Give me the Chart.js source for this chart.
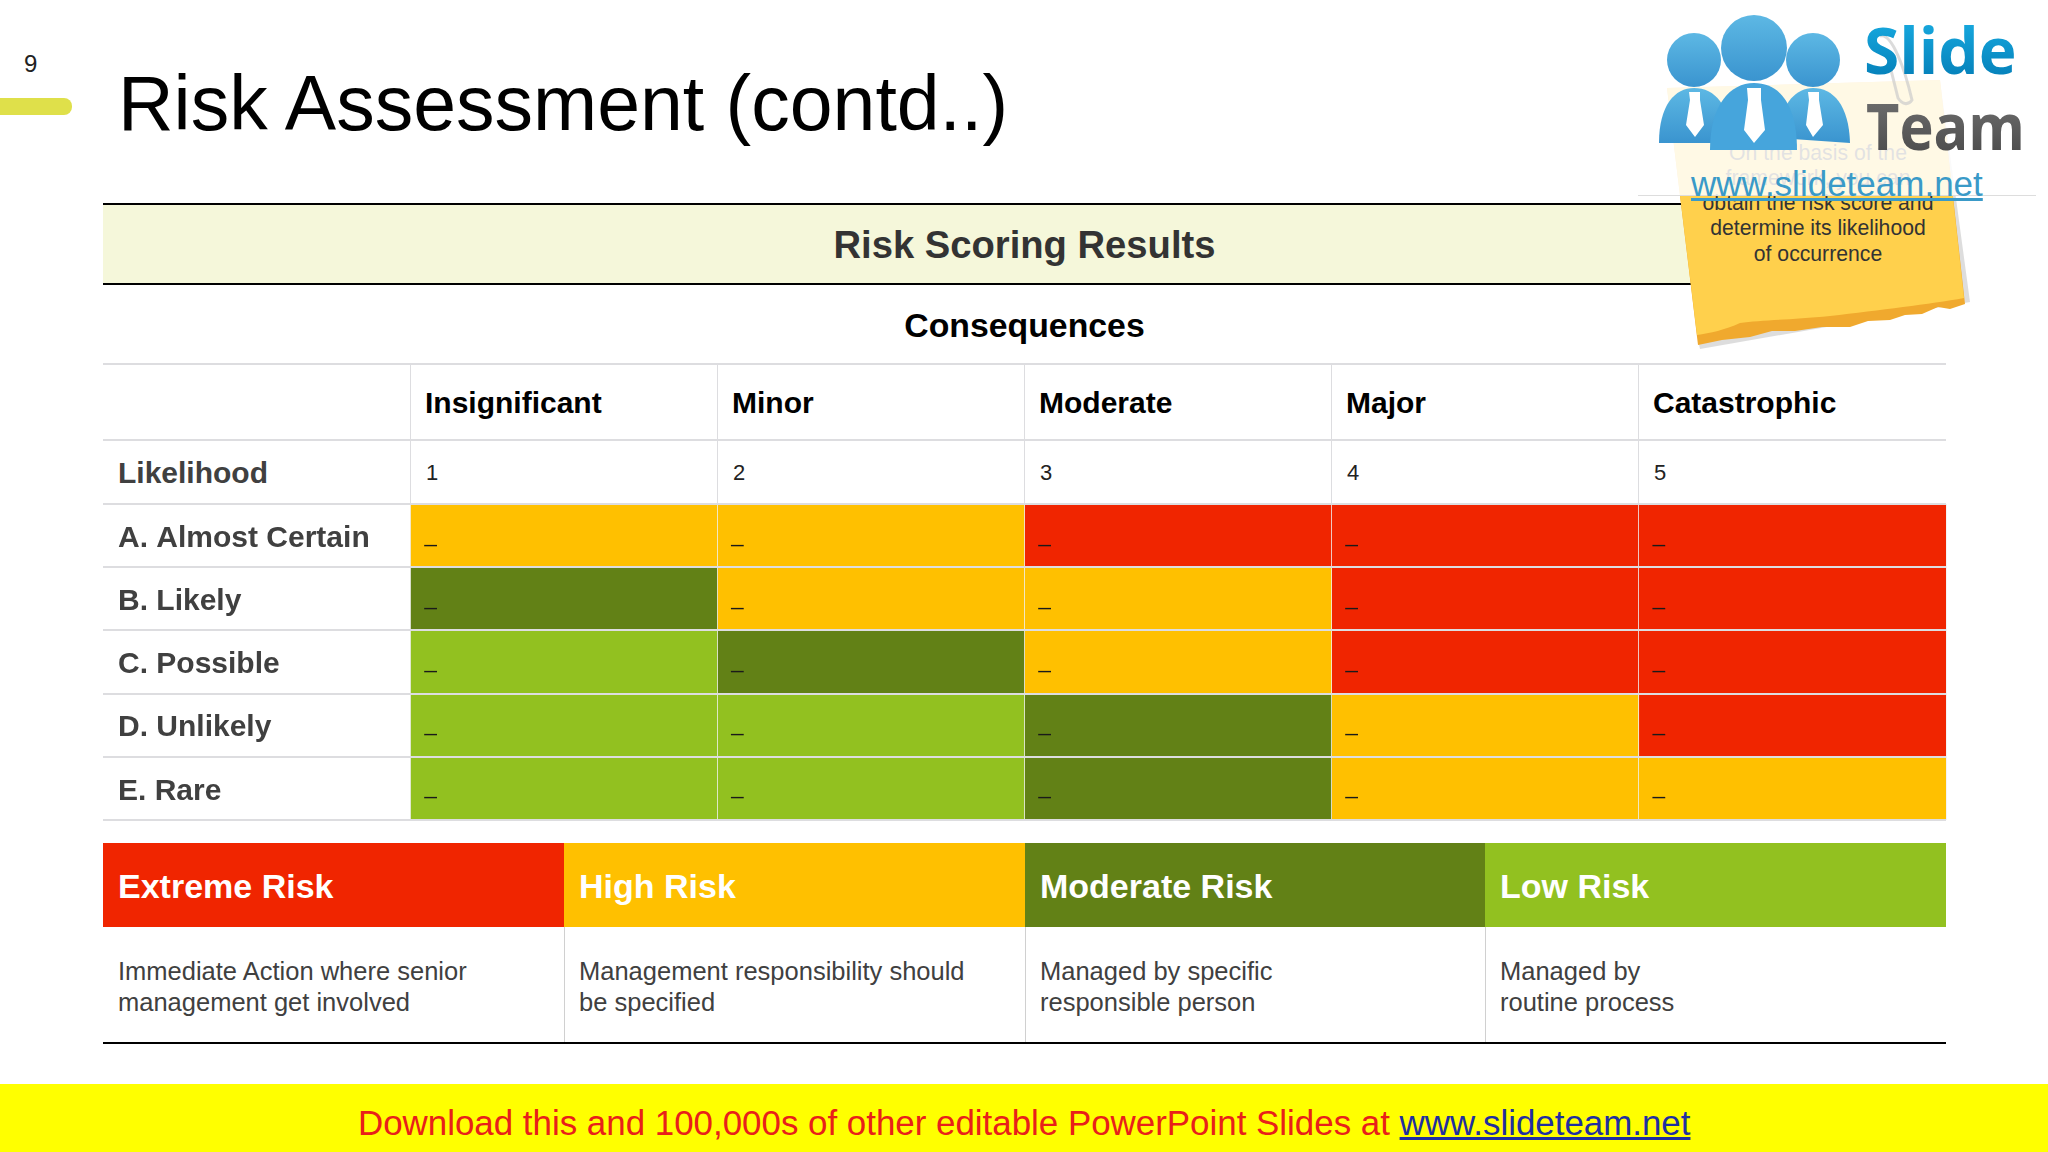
<!DOCTYPE html>
<html>
<head>
<meta charset="utf-8">
<title>Risk Assessment</title>
<script src="https://cdn.jsdelivr.net/npm/chart.js@4/dist/chart.umd.min.js"></script>
<style>
    html, body { margin: 0; padding: 0; background: #fff; }
    #slide { position: relative; width: 2048px; height: 1152px; overflow: hidden; background: #fff; font-family: 'Liberation Sans', Arial, sans-serif; }
    #slide div, #slide svg, #slide canvas { position: absolute; }
    .txt { white-space: nowrap; line-height: 1; }
    .b { font-weight: 700; }
</style>
</head>
<body>
<div id="slide">
    <div class="txt" style="left:24px;top:52px;font-size:24px;color:#222">9</div>
    <div style="left:0;top:98px;width:72px;height:17px;background:#dfe04a;border-radius:0 8px 8px 0"></div>
    <div class="txt" style="left:118px;top:65px;font-size:77px;color:#000">Risk Assessment (contd..)</div>

    <div style="left:103px;top:203px;width:1843px;height:81px;background:#f5f7da"></div>
    <div style="left:103px;top:203px;width:1843px;height:2px;background:#000"></div>
    <div style="left:103px;top:283px;width:1843px;height:2px;background:#000"></div>
    <div class="txt b" style="left:103px;width:1843px;text-align:center;top:226px;font-size:38.2px;color:#333">Risk Scoring Results</div>
    <div class="txt b" style="left:103px;width:1843px;text-align:center;top:309px;font-size:33.8px;color:#000">Consequences</div>

    <div id="head"></div>
    <canvas id="riskChart" width="1853" height="336" style="left:103px;top:494px"></canvas>
    <div id="key"></div>

    <!-- sticky note, washed out by the logo box on top of it -->
    <svg width="400" height="300" style="left:1640px;top:60px" viewBox="1640 60 400 300">
        <path d="M1940 80 L1970 302 L1700 349 L1698 340 L1960 296 Z" fill="#cfcfcf" opacity="0.7"/>
        <path d="M1667 88 L1940 80 L1965 304 L1950 309 L1938 307 L1922 314 L1905 315 L1890 320 L1868 321 L1850 327 L1822 327 L1795 331 L1772 331 L1750 337 L1722 340 L1698 345 Z" fill="#f0a92e"/>
        <path d="M1667 88 L1940 80 L1964 298 C1930 304 1880 310 1830 316 C1790 320 1760 320 1740 323 C1725 330 1710 333 1697 335 Z" fill="#ffd04c"/>
    </svg>
    <div class="txt" style="left:1640px;width:356px;text-align:center;top:142px;font-size:21.2px;color:#333">On the basis of the</div>
    <div class="txt" style="left:1640px;width:356px;text-align:center;top:167px;font-size:21.2px;color:#333">framework, you can</div>
    <div class="txt" style="left:1640px;width:356px;text-align:center;top:192px;font-size:21.2px;color:#333">obtain the risk score and</div>
    <div class="txt" style="left:1640px;width:356px;text-align:center;top:217px;font-size:21.2px;color:#333">determine its likelihood</div>
    <div class="txt" style="left:1640px;width:356px;text-align:center;top:243px;font-size:21.2px;color:#333">of occurrence</div>

    <div style="left:1638px;top:0;width:398px;height:195px;background:rgba(255,255,255,0.86);border-bottom:1px solid #ddd"></div>

    <svg width="400" height="200" style="left:1640px;top:0" viewBox="1640 0 400 200">
        <defs>
            <linearGradient id="blue" x1="0" y1="0" x2="0" y2="1"><stop offset="0" stop-color="#5db8e4"/><stop offset="1" stop-color="#3a94cf"/></linearGradient>
            <linearGradient id="slideBlue" x1="0" y1="0" x2="0" y2="1"><stop offset="0" stop-color="#1cb3e8"/><stop offset="1" stop-color="#0076b0"/></linearGradient>
            <linearGradient id="teamGrey" x1="0" y1="0" x2="0" y2="1"><stop offset="0" stop-color="#777"/><stop offset="1" stop-color="#444"/></linearGradient>
        </defs>
        <path d="M1880 36 C1892 32 1905 70 1912 100 C1908 106 1902 104 1898 98 L1886 50" fill="none" stroke="#ccc" stroke-width="3" opacity="0.7"/>
        <circle cx="1694" cy="60" r="27" fill="url(#blue)"/>
        <circle cx="1813" cy="60" r="27" fill="url(#blue)"/>
        <path d="M1659 143 C1659 105 1675 88 1694 88 C1715 88 1730 105 1732 143 Z" fill="url(#blue)"/>
        <path d="M1777 138 C1780 105 1795 88 1813 88 C1833 88 1849 105 1850 143 Z" fill="url(#blue)"/>
        <circle cx="1754" cy="48" r="33" fill="url(#blue)"/>
        <path d="M1710 150 C1710 105 1730 83 1754 83 C1780 83 1797 105 1797 150 Z" fill="#46a5dc"/>
        <path d="M1689 92 H1700 V100 L1704 125 L1695 137 L1686 125 L1690 100 Z" fill="#fff"/>
        <path d="M1747 88 H1761 V100 L1765 130 L1754 143 L1744 130 L1748 100 Z" fill="#fff"/>
        <path d="M1808 92 H1819 V100 L1823 125 L1813 137 L1806 125 L1809 100 Z" fill="#fff"/>
        <text x="1864" y="74" font-family="Open Sans" font-weight="700" font-size="64" fill="url(#slideBlue)">Slide</text>
        <text x="1866" y="150" font-family="Open Sans" font-weight="700" font-size="64" textLength="159" lengthAdjust="spacingAndGlyphs" fill="url(#teamGrey)">Team</text>
    </svg>
    <div class="txt" style="left:1691px;top:166px;font-size:35px;color:#3a9ac8;text-decoration:underline">www.slideteam.net</div>

    <div style="left:0;top:1084px;width:2048px;height:68px;background:#ffff00"></div>
    <div class="txt" style="left:358px;top:1106px;font-size:34.9px;color:#e8201a">Download this and 100,000s of other editable PowerPoint Slides at <span style="color:#1f2fa0;text-decoration:underline">www.slideteam.net</span></div>
</div>

<script>
const consequences = ['Insignificant', 'Minor', 'Moderate', 'Major', 'Catastrophic'];
const impactScores = ['1', '2', '3', '4', '5'];
const likelihoods = ['A. Almost Certain', 'B. Likely', 'C. Possible', 'D. Unlikely', 'E. Rare'];

// risk level per cell, one list per likelihood row
const rowA = ['High', 'High', 'Extreme', 'Extreme', 'Extreme'];
const rowB = ['Moderate', 'High', 'High', 'Extreme', 'Extreme'];
const rowC = ['Low', 'Moderate', 'High', 'Extreme', 'Extreme'];
const rowD = ['Low', 'Low', 'Moderate', 'High', 'Extreme'];
const rowE = ['Low', 'Low', 'Moderate', 'High', 'High'];
const cellSpan = [1, 1, 1, 1, 1];   // every cell is one unit wide
const cellMark = '_';

const keyNames = ['Extreme Risk', 'High Risk', 'Moderate Risk', 'Low Risk'];
const keyNotes = [
    ['Immediate Action where senior', 'management get involved'],
    ['Management responsibility should', 'be specified'],
    ['Managed by specific', 'responsible person'],
    ['Managed by', 'routine process']
];

const levelColors = { Extreme: '#f02500', High: '#ffc000', Moderate: '#628116', Low: '#92c120' };
const keyColors = ['#f02500', '#ffc000', '#628116', '#92c120'];
const rows = [rowA, rowB, rowC, rowD, rowE];

const FONT = "'Liberation Sans', Arial, sans-serif";
const GRID = '#dddde0';

function addDiv(parent, css, text) {
    const d = document.createElement('div');
    d.style.cssText = css;
    if (text) { d.textContent = text; d.className = 'txt'; }
    parent.appendChild(d);
    return d;
}

// header rows above the matrix
const head = document.getElementById('head');
const colX = [410, 717, 1024, 1331, 1638];
[364, 440].forEach(y => addDiv(head, `left:103px;top:${y - 1}px;width:1843px;height:2px;background:${GRID}`));
colX.forEach((x, i) => {
    addDiv(head, `left:${x}px;top:364px;width:1px;height:140px;background:${GRID}`);
    addDiv(head, `left:${x + 15}px;top:388px;font-size:30px;font-weight:700;color:#000`, consequences[i]);
    addDiv(head, `left:${x + 16}px;top:462px;font-size:22px;color:#222`, impactScores[i]);
});
addDiv(head, 'left:118px;top:458px;font-size:30px;font-weight:700;color:#404040', 'Likelihood');

// risk key under the matrix
const key = document.getElementById('key');
const keyX = [103, 564, 1025, 1485];
const keyW = [461, 461, 460, 461];
keyNames.forEach((name, i) => {
    addDiv(key, `left:${keyX[i]}px;top:843px;width:${keyW[i]}px;height:84px;background:${keyColors[i]}`);
    addDiv(key, `left:${keyX[i] + 15}px;top:869px;font-size:34px;font-weight:700;color:#fff`, name);
    if (i > 0) addDiv(key, `left:${keyX[i]}px;top:927px;width:1px;height:116px;background:#d0d0d0`);
    addDiv(key, `left:${keyX[i] + 15}px;top:959px;font-size:25.5px;color:#404040`, keyNotes[i][0]);
    addDiv(key, `left:${keyX[i] + 15}px;top:990px;font-size:25.5px;color:#404040`, keyNotes[i][1]);
});
addDiv(key, 'left:103px;top:1042px;width:1843px;height:2px;background:#000');

// dash in the corner of each cell
const cellMarks = {
    id: 'cellMarks',
    afterDatasetsDraw(chart) {
        const { ctx } = chart;
        ctx.save();
        ctx.font = `22px ${FONT}`;
        ctx.fillStyle = '#1a1a1a';
        ctx.textAlign = 'left';
        ctx.textBaseline = 'alphabetic';
        chart.data.datasets.forEach((ds, i) => {
            chart.getDatasetMeta(i).data.forEach(bar => {
                ctx.fillText(cellMark, bar.base + 14, bar.y + 6);
            });
        });
        ctx.restore();
    }
};

new Chart(document.getElementById('riskChart'), {
    type: 'bar',
    data: {
        labels: likelihoods,
        datasets: consequences.map((name, c) => ({
            label: name,
            data: cellSpan,
            backgroundColor: rows.map(r => levelColors[r[c]]),
            borderWidth: 0,
            categoryPercentage: 1,
            barPercentage: 1
        }))
    },
    options: {
        indexAxis: 'y',
        responsive: false,
        animation: false,
        layout: { padding: { left: 15, right: 10, top: 10, bottom: 10 } },
        plugins: { legend: { display: false }, tooltip: { enabled: false } },
        scales: {
            x: {
                stacked: true,
                display: true,
                min: 0,
                max: 5,
                position: 'top',
                border: { display: false },
                ticks: { display: false, stepSize: 1 },
                grid: { color: 'rgba(240,240,240,0.8)', lineWidth: 1, z: 1, drawTicks: false },
                afterFit(scale) { scale.height = 0; scale.paddingLeft = 0; scale.paddingRight = 0; }
            },
            y: {
                stacked: true,
                type: 'category',
                border: { display: false },
                grid: { offset: true, color: GRID, lineWidth: 2, tickLength: 307, z: 1 },
                ticks: { crossAlign: 'far', padding: 0, labelOffset: 3, color: '#404040', font: { family: FONT, size: 30, weight: '700' } },
                afterFit(scale) { scale.width = 292; scale.paddingTop = 0; scale.paddingBottom = 0; }
            }
        }
    },
    plugins: [cellMarks]
});
</script>
</body>
</html>
